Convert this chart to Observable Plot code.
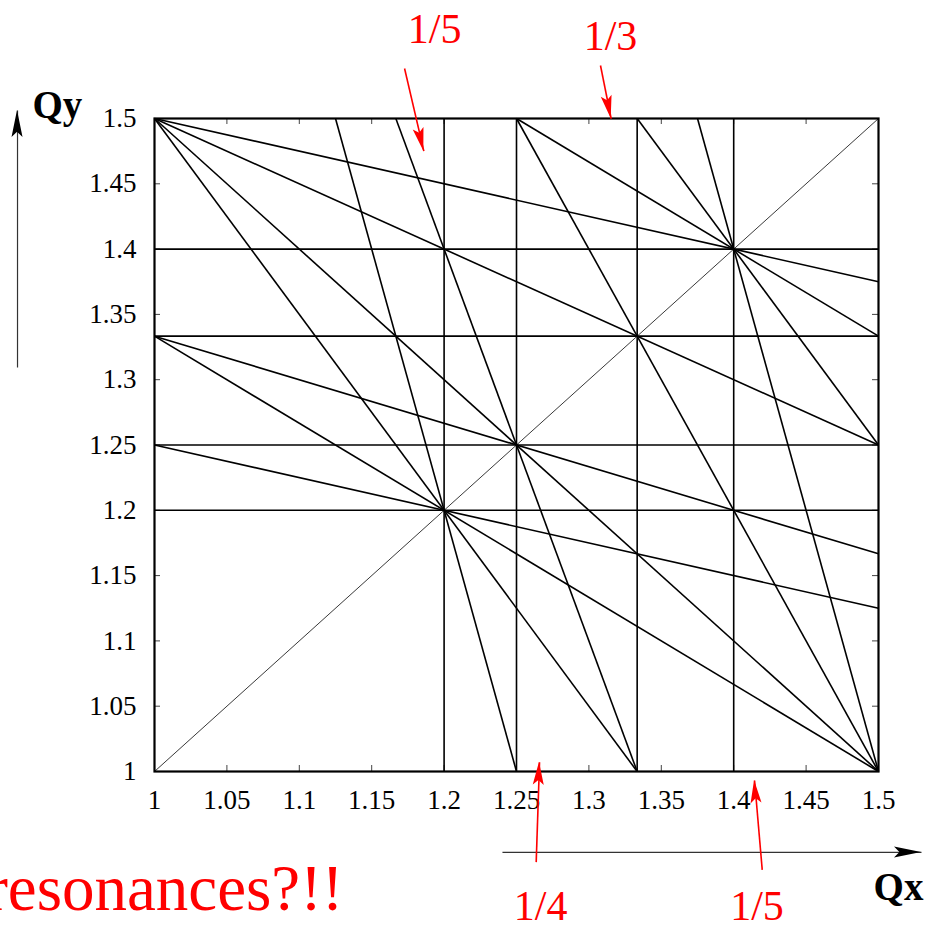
<!DOCTYPE html>
<html>
<head>
<meta charset="utf-8">
<script src="https://cdn.jsdelivr.net/npm/d3@7"></script>
<script src="https://cdn.jsdelivr.net/npm/@observablehq/plot@0.6"></script>
<style>
  html, body { margin: 0; padding: 0; background: #fff; }
  #chart svg { display: block; }
</style>
</head>
<body>
<div id="chart"></div>
<script>
// Sum resonances m·Qx + n·Qy = p, up to fifth order, as [m, n, p]
const resonances = [
  [5, 0, 6], [4, 0, 5], [3, 0, 4], [5, 0, 7],
  [0, 5, 6], [0, 4, 5], [0, 3, 4], [0, 5, 7],
  [1, 4, 7], [1, 2, 4], [2, 2, 5], [3, 2, 6],
  [2, 3, 6], [1, 3, 5], [1, 4, 6], [4, 1, 6],
  [3, 1, 5], [2, 3, 7], [3, 2, 7], [4, 1, 7],
  [2, 1, 4]
];
// Coupling (difference) resonance Qx − Qy = 0
const coupling = [[1, -1, 0]];

// Tune window
const qMin = 1, qMax = 1.5;

// Axis ticks and their labels
const xTicks = [1, 1.05, 1.1, 1.15, 1.2, 1.25, 1.3, 1.35, 1.4, 1.45, 1.5];
const xTickLabels = ["1", "1.05", "1.1", "1.15", "1.2", "1.25", "1.3", "1.35", "1.4", "1.45", "1.5"];
const yTicks = [1, 1.05, 1.1, 1.15, 1.2, 1.25, 1.3, 1.35, 1.4, 1.45, 1.5];
const yTickLabels = ["1", "1.05", "1.1", "1.15", "1.2", "1.25", "1.3", "1.35", "1.4", "1.45", "1.5"];

// Red annotations, in tune units
const noteText = ["1/5", "1/3", "1/4", "1/5"];
const noteX = [1.1934, 1.3149, 1.2666, 1.4161];
const noteY = [1.568, 1.5628, 0.8965, 0.8965];
const noteArrowFrom = [[1.1727, 1.5383], [1.308, 1.5406], [1.2636, 0.9306], [1.4197, 0.9247]];
const noteArrowTo = [[1.186, 1.475], [1.3154, 1.4998], [1.2659, 1.0071], [1.4144, 0.9931]];

// Axis names with their direction arrows
const axisNames = ["Qx", "Qy"];
const axisNameX = [1.4966, 0.9157];
const axisNameY = [0.911, 1.510];
const axisArrowFrom = [[1.2403, 0.938], [0.9054, 1.3093]];
const axisArrowTo = [[1.5297, 0.938], [0.9054, 1.5061]];

const headline = "resonances?!!";

// Clip a resonance line to the tune window
function segment([m, n, p]) {
  if (n === 0) return [[p / m, qMin], [p / m, qMax]];
  if (m === 0) return [[qMin, p / n], [qMax, p / n]];
  const eps = 1e-9, pts = [];
  for (const x of [qMin, qMax]) {
    const y = (p - m * x) / n;
    if (y >= qMin - eps && y <= qMax + eps) pts.push([x, y]);
  }
  for (const y of [qMin, qMax]) {
    const x = (p - n * y) / m;
    if (x >= qMin - eps && x <= qMax + eps) pts.push([x, y]);
  }
  pts.sort((a, b) => a[0] - b[0] || a[1] - b[1]);
  return [pts[0], pts[pts.length - 1]];
}
const toLink = (r) => {
  const [[x1, y1], [x2, y2]] = segment(r);
  return {x1, y1, x2, y2};
};
const resonanceLinks = resonances.map(toLink);
const couplingLinks = coupling.map(toLink);

const noteArrows = noteArrowFrom.map(([x1, y1], i) => ({x1, y1, x2: noteArrowTo[i][0], y2: noteArrowTo[i][1]}));
const axisArrows = axisArrowFrom.map(([x1, y1], i) => ({x1, y1, x2: axisArrowTo[i][0], y2: axisArrowTo[i][1]}));

// Filled, slightly notched arrowheads placed through the plot's scales
function arrowHeads(arrows, {length, halfWidth, fill}) {
  return (index, scales) => {
    const g = d3.create("svg:g").attr("fill", fill).attr("stroke", "none");
    for (const a of arrows) {
      const x1 = scales.x(a.x1), y1 = scales.y(a.y1);
      const x2 = scales.x(a.x2), y2 = scales.y(a.y2);
      const ang = Math.atan2(y2 - y1, x2 - x1);
      const c = Math.cos(ang), s = Math.sin(ang);
      const bx = x2 - length * c, by = y2 - length * s;
      const nx = x2 - length * 0.8 * c, ny = y2 - length * 0.8 * s;
      g.append("path").attr("d",
        `M${x2},${y2}L${bx - s * halfWidth},${by + c * halfWidth}L${nx},${ny}L${bx + s * halfWidth},${by - c * halfWidth}Z`);
    }
    return g.node();
  };
}

const W = 928, H = 928;
const margin = {top: 118, right: 50, bottom: 157, left: 154};
const innerW = W - margin.left - margin.right;
const innerH = H - margin.top - margin.bottom;
const tickLen = 6;
const serif = "Liberation Serif, Times New Roman, serif";

const chart = Plot.plot({
  width: W,
  height: H,
  marginTop: margin.top,
  marginRight: margin.right,
  marginBottom: margin.bottom,
  marginLeft: margin.left,
  style: {fontFamily: serif, background: "#fff", overflow: "visible"},
  x: {domain: [qMin, qMax], axis: null},
  y: {domain: [qMin, qMax], axis: null},
  marks: [
    // inward ticks on all four sides
    Plot.tickX(xTicks, {x: d => d, insetTop: innerH - tickLen, stroke: "#444", strokeWidth: 1}),
    Plot.tickX(xTicks, {x: d => d, insetBottom: innerH - tickLen, stroke: "#444", strokeWidth: 1}),
    Plot.tickY(yTicks, {y: d => d, insetRight: innerW - tickLen, stroke: "#444", strokeWidth: 1}),
    Plot.tickY(yTicks, {y: d => d, insetLeft: innerW - tickLen, stroke: "#444", strokeWidth: 1}),
    // resonance lines
    Plot.link(couplingLinks, {x1: "x1", y1: "y1", x2: "x2", y2: "y2", stroke: "#222", strokeWidth: 0.9}),
    Plot.link(resonanceLinks, {x1: "x1", y1: "y1", x2: "x2", y2: "y2", stroke: "#000", strokeWidth: 1.6}),
    Plot.frame({stroke: "#000", strokeWidth: 2.2}),
    // tick labels
    Plot.text(xTicks, {x: d => d, y: () => qMin, text: (d, i) => xTickLabels[i], dy: 29,
      fontSize: 27, fontFamily: serif, fill: "#000"}),
    Plot.text(yTicks, {x: () => qMin, y: d => d, text: (d, i) => yTickLabels[i], dx: -18, textAnchor: "end",
      fontSize: 27, fontFamily: serif, fill: "#000"}),
    // axis names and direction arrows
    Plot.link(axisArrows, {x1: "x1", y1: "y1", x2: "x2", y2: "y2", stroke: "#333", strokeWidth: 1.2}),
    arrowHeads(axisArrows, {length: 27, halfWidth: 5.5, fill: "#000"}),
    Plot.text(axisNames, {x: (d, i) => axisNameX[i], y: (d, i) => axisNameY[i], text: d => d,
      textAnchor: "start", fontSize: 39, fontWeight: "bold", fontFamily: serif, fill: "#000"}),
    // red annotations
    Plot.link(noteArrows, {x1: "x1", y1: "y1", x2: "x2", y2: "y2", stroke: "#ff0000", strokeWidth: 1.6}),
    arrowHeads(noteArrows, {length: 23, halfWidth: 5.5, fill: "#ff0000"}),
    Plot.text(noteText, {x: (d, i) => noteX[i], y: (d, i) => noteY[i], text: d => d,
      fontSize: 42, fontFamily: serif, fill: "#ff0000"}),
    Plot.text([headline], {x: () => 1.1305, y: () => 0.9097, text: d => d, textAnchor: "end",
      fontSize: 65, fontFamily: serif, fill: "#ff0000"})
  ]
});

document.getElementById("chart").appendChild(chart);
</script>
</body>
</html>
